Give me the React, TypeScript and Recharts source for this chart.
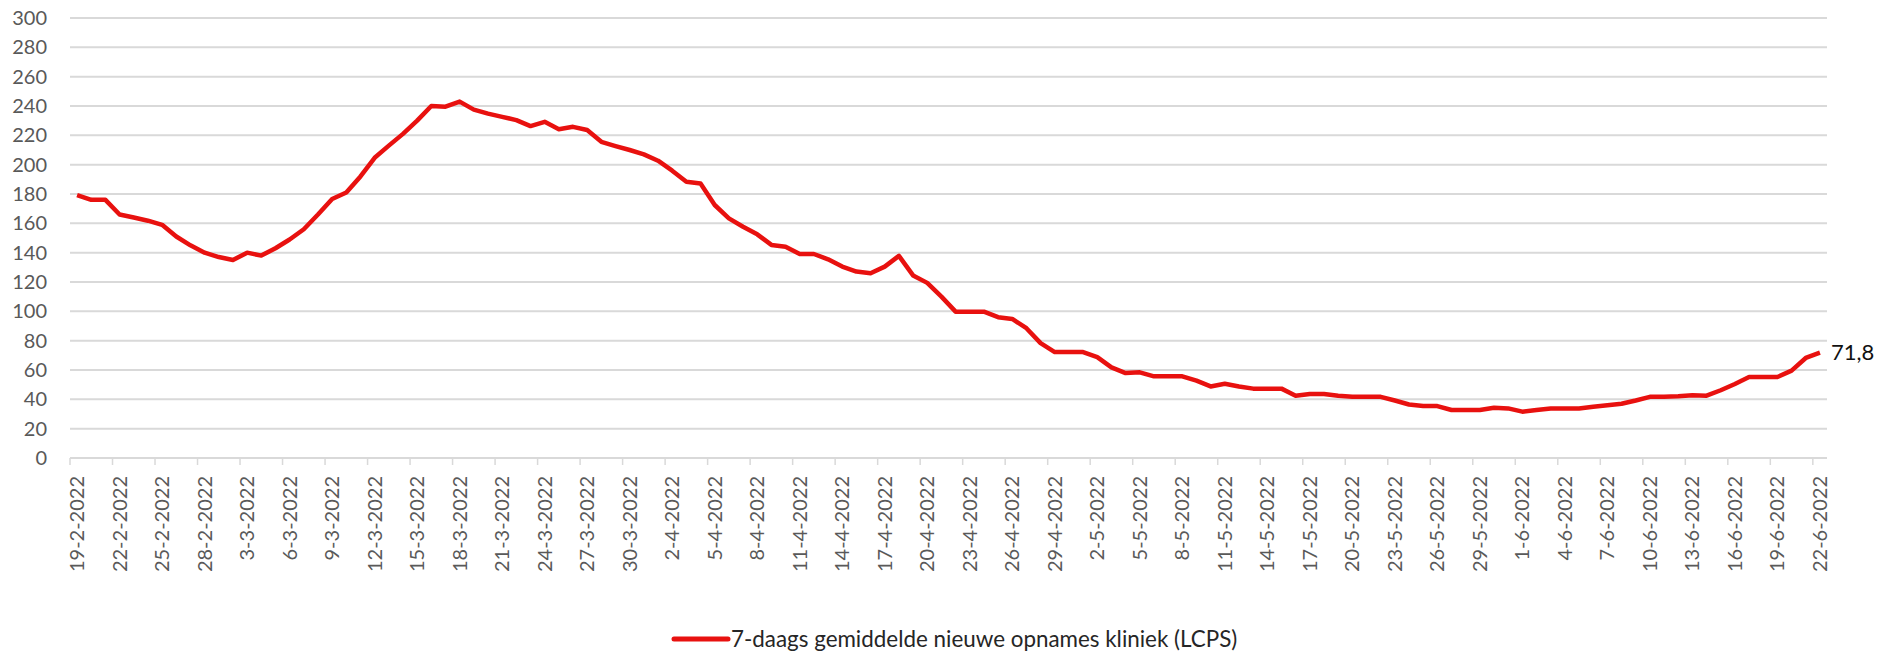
import { CartesianGrid, LabelList, Legend, Line, LineChart, XAxis, YAxis } from 'recharts';

// 7-daags gemiddelde nieuwe opnames kliniek, 19-2-2022 t/m 22-6-2022
const startDate = [2022, 1, 19]; // year, month index, day
const opnames = [
  179.3, 176, 176, 166, 164, 161.8, 159, 151, 145, 140, 137, 135, 140, 138, 143, 149,
  156, 166, 176.6, 181, 192, 204.7, 213, 221, 230, 240, 239.5, 243, 237.5, 234.8,
  232.6, 230.4, 226.3, 229.2, 224.2, 225.8, 223.6, 215.6, 212.7, 210, 207, 202.7,
  195.9, 188.4, 187.2, 172.5, 163.4, 157.7, 152.5, 145.3, 144.1, 139.1, 139.1, 135.5,
  130.5, 127.1, 126, 130.5, 137.8, 124.5, 119.4, 110, 99.8, 99.8, 99.8, 96, 94.8,
  88.5, 78.3, 72.2, 72.2, 72.2, 68.8, 61.8, 57.9, 58.4, 55.7, 55.7, 55.7, 52.7, 48.8,
  50.6, 48.8, 47.3, 47.3, 47.3, 42.5, 43.7, 43.7, 42.5, 41.7, 41.7, 41.7, 39.2, 36.5,
  35.4, 35.4, 32.7, 32.7, 32.7, 34.3, 33.8, 31.6, 32.7, 33.8, 33.8, 33.8, 35, 35.9,
  37, 39.2, 41.7, 41.7, 42.1, 42.8, 42.5, 46.2, 50.5, 55.2, 55.2, 55.2, 59.6, 68.2, 71.8,
];
const yTicks = [0, 20, 40, 60, 80, 100, 120, 140, 160, 180, 200, 220, 240, 260, 280, 300];
const seriesName = '7-daags gemiddelde nieuwe opnames kliniek (LCPS)';

const dates = opnames.map((_, i) => {
  const d = new Date(startDate[0], startDate[1], startDate[2] + i);
  return `${d.getDate()}-${d.getMonth() + 1}-${d.getFullYear()}`;
});
const data = opnames.map((v, i) => ({ date: dates[i], v }));

const W = 1886;
const H = 651;
const margin = { top: 18, right: 67, left: 0, bottom: 0 };
const yAxisWidth = 62;
const plotWidth = W - margin.left - margin.right - yAxisWidth;
const band = plotWidth / opnames.length;
const RED = '#e8110f';
const GRID = '#d9d9d9';
const FONT = 'Lato, "Open Sans", sans-serif';

function DateTick({ x, y, payload }: any) {
  const tx = x - band / 2;
  return (
    <g>
      <line x1={tx} y1={y} x2={tx} y2={y + 7} stroke={GRID} strokeWidth={1.5} />
      <text
        x={x}
        y={y + 18}
        dy="0.35em"
        textAnchor="end"
        transform={`rotate(-90, ${x}, ${y + 18})`}
        fill="#595959"
        fontSize={20}
        fontFamily={FONT}
      >
        {payload.value}
      </text>
    </g>
  );
}

function LastValue(props: any) {
  const { x, y, value, index } = props;
  if (index !== opnames.length - 1) return null;
  return (
    <text x={x + 11} y={y} dy="0.35em" fill="#111" fontSize={22} fontFamily={FONT}>
      {String(value).replace('.', ',')}
    </text>
  );
}

function LegendBox() {
  return (
    <div style={{ height: 24, display: 'flex', alignItems: 'center', paddingLeft: 663, fontFamily: FONT }}>
      <svg width={60} height={10}>
        <line x1={3} y1={5} x2={57} y2={5} stroke={RED} strokeWidth={5} strokeLinecap="round" />
      </svg>
      <span style={{ fontSize: 22.4, lineHeight: '24px', color: '#262626', whiteSpace: 'nowrap' }}>
        {seriesName}
      </span>
    </div>
  );
}

export default function App() {
  return (
    <div style={{ width: W, height: H, marginTop: -8, fontFamily: FONT }}>
      <LineChart width={W} height={H} data={data} margin={margin}>
        <CartesianGrid horizontal vertical={false} stroke={GRID} strokeWidth={2} />
        <XAxis
          dataKey="date"
          interval={2}
          height={169}
          padding={{ left: band / 2, right: band / 2 }}
          axisLine={{ stroke: GRID, strokeWidth: 2 }}
          tickLine={false}
          tickSize={0}
          tickMargin={0}
          tick={<DateTick />}
        />
        <YAxis
          domain={[0, 300]}
          ticks={yTicks}
          interval={0}
          width={yAxisWidth}
          axisLine={false}
          tickLine={false}
          tickSize={0}
          tickMargin={23}
          tick={{ fill: '#595959', fontSize: 20, fontFamily: FONT }}
        />
        <Legend verticalAlign="bottom" content={() => <LegendBox />} />
        <Line
          type="linear"
          dataKey="v"
          name={seriesName}
          stroke={RED}
          strokeWidth={4.5}
          strokeLinejoin="round"
          dot={false}
          isAnimationActive={false}
        >
          <LabelList dataKey="v" content={<LastValue />} />
        </Line>
      </LineChart>
    </div>
  );
}
